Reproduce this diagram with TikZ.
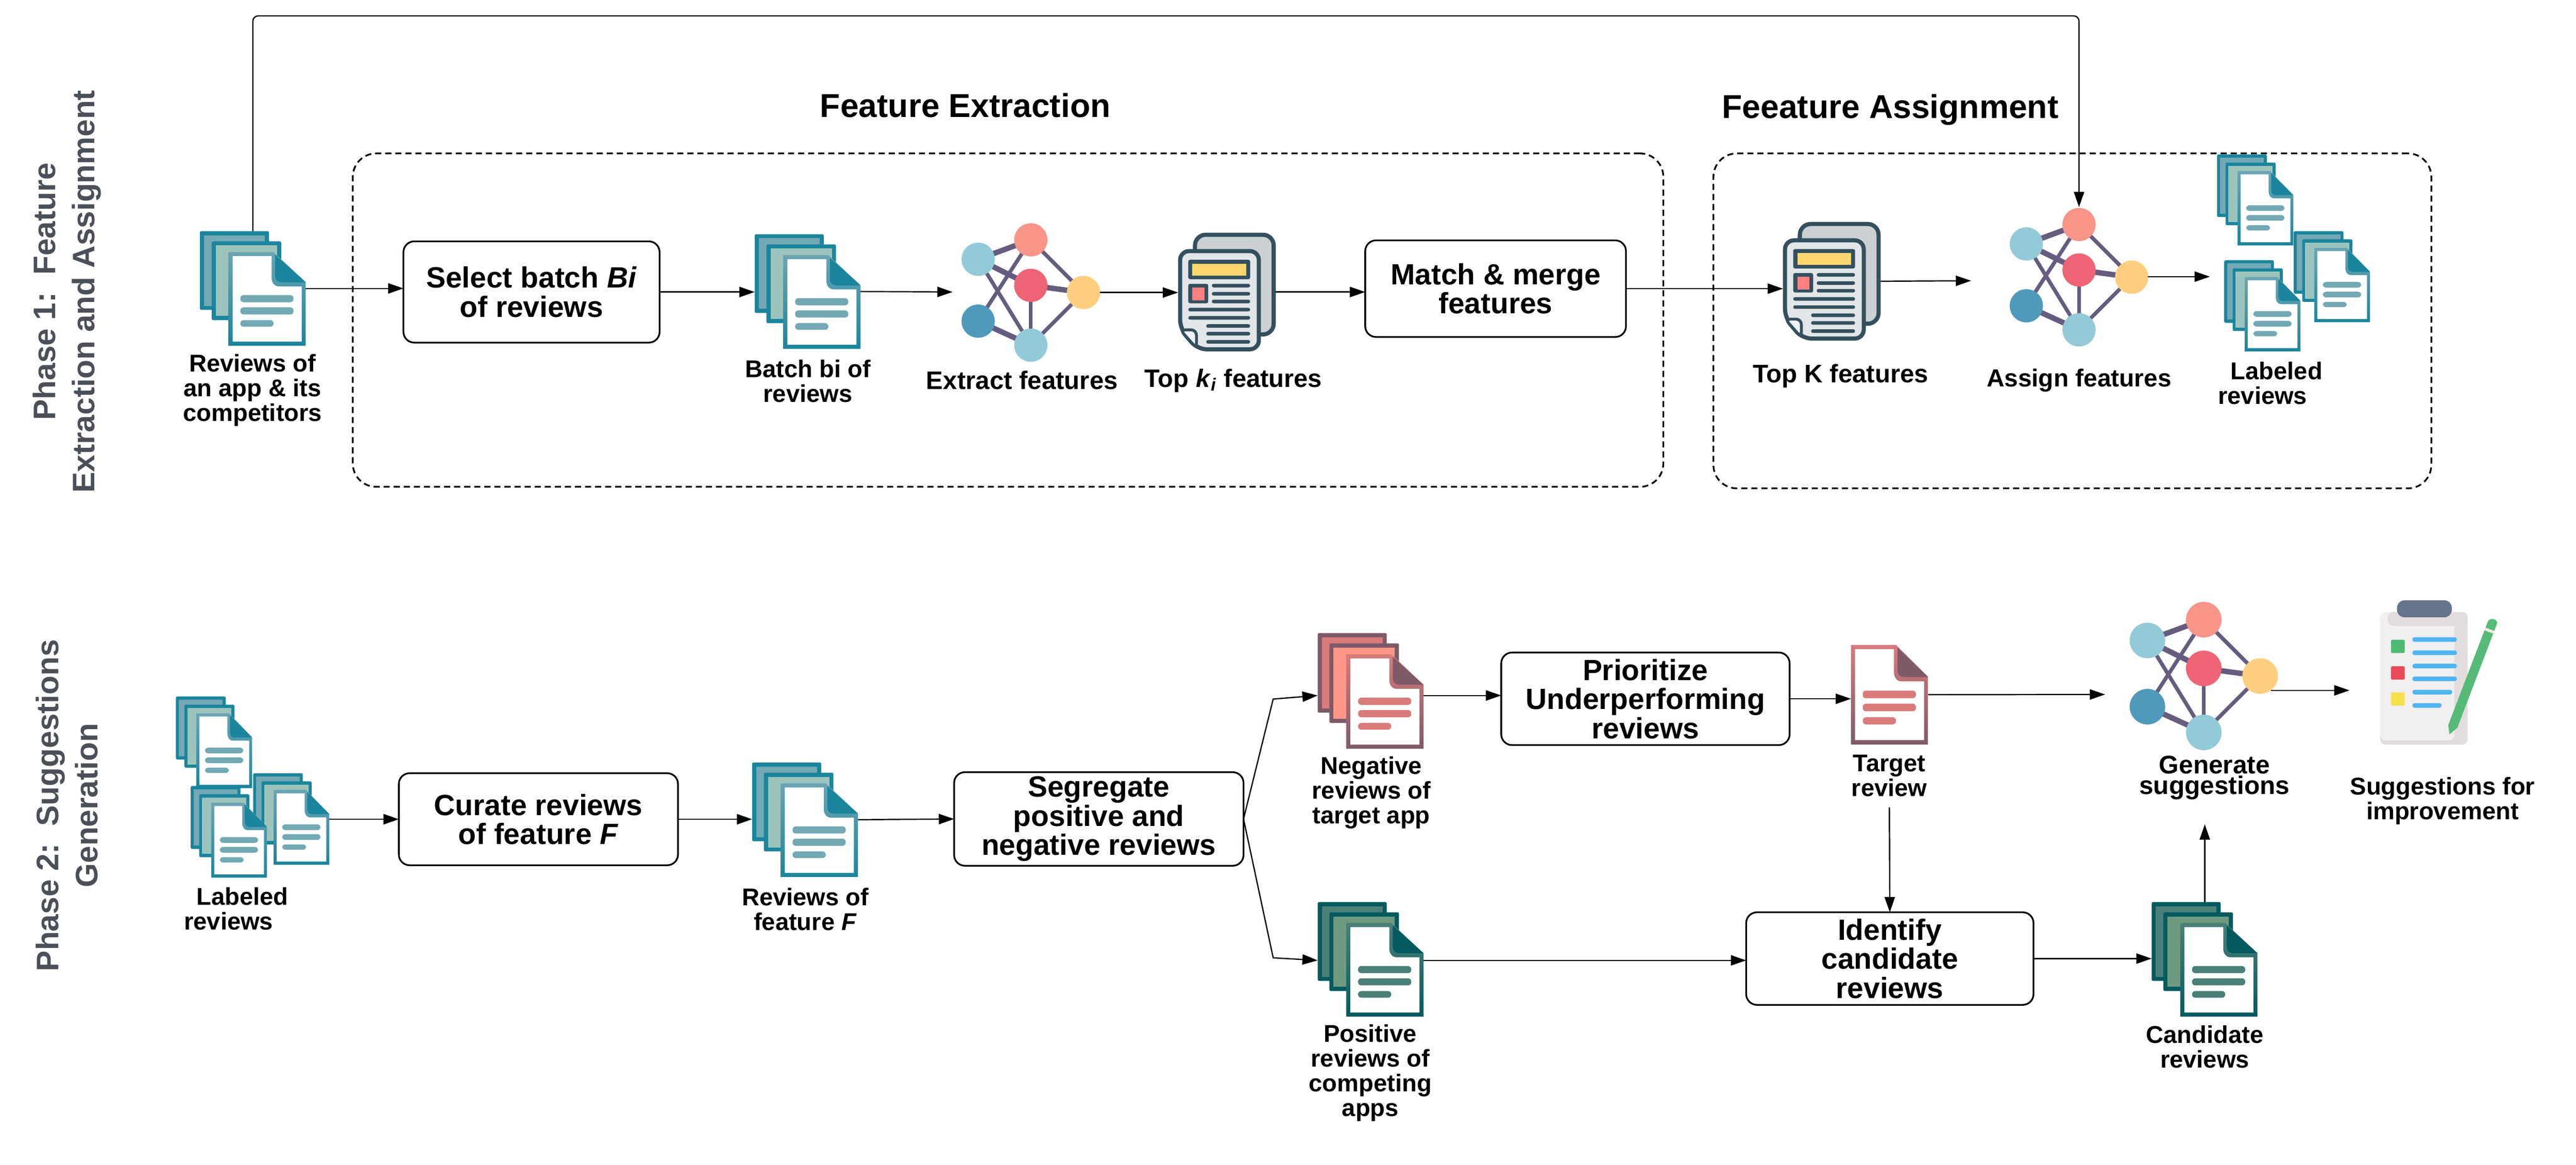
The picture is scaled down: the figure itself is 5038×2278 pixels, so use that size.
\documentclass[tikz,border=0pt]{standalone}
\usepackage{fontspec}
\setmainfont{Liberation Sans}
\usetikzlibrary{arrows.meta}

\definecolor{tealframe}{HTML}{1A859C}
\definecolor{tealback}{HTML}{73A8B5}
\definecolor{tealmid}{HTML}{9CC4BC}
\definecolor{tealtop}{HTML}{6BA5B5}
\definecolor{roseframe}{HTML}{7E5A68}
\definecolor{roseback}{HTML}{D97B7B}
\definecolor{rosemid}{HTML}{FF9688}
\definecolor{rosetop}{HTML}{D97B7B}
\definecolor{pineframe}{HTML}{045A5F}
\definecolor{pineback}{HTML}{4A8078}
\definecolor{pinemid}{HTML}{6E9A80}
\definecolor{pinetop}{HTML}{4A8078}
\definecolor{netlink}{HTML}{665C7F}
\definecolor{paperdark}{HTML}{33505F}
\definecolor{phasegray}{HTML}{4B5058}

\newcommand{\drawsheet}[1]{
    \shade[top color=#1top, bottom color=#1frame] (0,0) -- (88,0) -- (151,59) -- (151,183) -- (0,183) -- cycle;
    \fill[#1frame] (91,5) -- (151,59) -- (103,59) .. controls (96,59) and (91,54) .. (91,47) -- cycle;
    \fill[white] (8,8) -- (84,8) -- (84,50) .. controls (84,60) and (90,67) .. (98,67) -- (143,67) -- (143,175) -- (8,175) -- cycle;
    \fill[#1back, rounded corners=1.8pt] (23,84) rectangle (127,98);
    \fill[#1back, rounded corners=1.8pt] (23,108) rectangle (127,122);
    \fill[#1back, rounded corners=1.8pt] (23,133) rectangle (88,146);
}

\tikzset{
    flowarrow/.style={-{Triangle[length=8.5pt,width=5.7pt]}, line width=0.7pt, black},
    iconbox/.style 2 args={minimum width=#1*0.01cm, minimum height=#2*0.01cm, inner sep=0pt, outer sep=0pt, anchor=north west},
    procbox/.style 2 args={draw=black, line width=0.95pt, rounded corners=6pt, minimum width=#1*0.01cm, minimum height=#2*0.01cm, inner sep=0pt, outer sep=0pt, anchor=north west, align=center, font=\bfseries\fontsize{16.3}{16.2}\selectfont},
    dashbox/.style 2 args={draw=black, line width=0.95pt, rounded corners=13pt, dash pattern=on 3.4pt off 2.2pt, minimum width=#1*0.01cm, minimum height=#2*0.01cm, inner sep=0pt, outer sep=0pt, anchor=north west},
    iconlabel/.style={inner sep=0pt, outer sep=0pt, align=center, font=\bfseries\fontsize{13.5}{13.7}\selectfont},
    widelabel/.style={inner sep=0pt, outer sep=0pt, align=center, font=\bfseries\fontsize{14.1}{13.7}\selectfont},
    titlelabel/.style={inner sep=0pt, outer sep=0pt, font=\bfseries\fontsize{18.4}{20}\selectfont},
    phaselabel/.style={inner sep=0pt, outer sep=0pt, align=center, rotate=90, text=phasegray, font=\bfseries\fontsize{17.3}{21.8}\selectfont},
    pics/revsheet/.style={code={
        \drawsheet{#1}
    }},
    pics/revstack/.style={code={
        \fill[#1frame, rounded corners=0.8pt] (0,0) rectangle (135,154);
        \fill[#1back] (8,8) rectangle (127,146);
        \fill[#1frame, rounded corners=0.8pt] (23,20) rectangle (159,174);
        \fill[#1mid] (31,28) rectangle (151,166);
        \begin{scope}[shift={(56,41)}]
            \drawsheet{#1}
        \end{scope}
    }},
    pics/netgraph/.style={code={
        \coordinate (nlt) at (-103,-51);
        \coordinate (ntp) at (0,-89);
        \coordinate (nmd) at (0,0);
        \coordinate (nrt) at (103,14);
        \coordinate (nlb) at (-103,70);
        \coordinate (nbt) at (0,117);
        \foreach \a/\b in {nlt/ntp, nlt/nmd, nmd/nrt, nlb/nbt} {
            \draw[netlink, line width=3pt] (\a) -- (\b);
        }
        \foreach \a/\b in {nlt/nbt, ntp/nlb, ntp/nrt, nmd/nbt, nrt/nbt} {
            \draw[netlink, line width=2.1pt] (\a) -- (\b);
        }
        \fill[fill={rgb,255:red,147;green,202;blue,216}] (nlt) circle (32.5);
        \fill[fill={rgb,255:red,249;green,148;blue,136}] (ntp) circle (32.5);
        \fill[fill={rgb,255:red,239;green,100;blue,116}] (nmd) circle (32.5);
        \fill[fill={rgb,255:red,255;green,207;blue,127}] (nrt) circle (32.5);
        \fill[fill={rgb,255:red,79;green,154;blue,186}] (nlb) circle (32.5);
        \fill[fill={rgb,255:red,147;green,202;blue,216}] (nbt) circle (32.5);
    }},
    pics/newspaper/.style={code={
        \draw[paperdark, line width=2.3pt, rounded corners=6pt, fill={rgb,255:red,203;green,208;blue,211}] (33,4) rectangle (187,199);
        \draw[paperdark, line width=2.3pt, rounded corners=5pt, fill={rgb,255:red,226;green,230;blue,232}] (4,36) -- (158,36) -- (158,228) -- (38,228) -- (4,188) -- cycle;
        \draw[paperdark, line width=1.6pt, rounded corners=3pt, fill={rgb,255:red,240;green,242;blue,243}] (4,190) -- (36,190) -- (36,226) -- cycle;
        \fill[paperdark, rounded corners=1pt] (20,53) rectangle (141,91);
        \fill[fill={rgb,255:red,255;green,214;blue,110}] (28,61) rectangle (133,84);
        \fill[paperdark, rounded corners=1pt] (20,100) rectangle (59,138);
        \fill[fill={rgb,255:red,255;green,128;blue,128}] (28,107) rectangle (52,132);
        \foreach \y in {100,116,131} {
            \fill[paperdark, rounded corners=1pt] (66,\y) rectangle (141,\y+7);
        }
        \foreach \y in {147,163} {
            \fill[paperdark, rounded corners=1pt] (20,\y) rectangle (141,\y+7);
        }
        \foreach \y in {179,194,210} {
            \fill[paperdark, rounded corners=1pt] (55,\y) rectangle (141,\y+7);
        }
    }},
    pics/clipchart/.style={code={
        \fill[fill={rgb,255:red,226;green,220;blue,220}, rounded corners=3pt] (0,23) rectangle (171,282);
        \fill[fill={rgb,255:red,241;green,239;blue,239}, rounded corners=3pt] (0,23) rectangle (145,274);
        \fill[fill={rgb,255:red,226;green,220;blue,220}, rounded corners=3pt] (15,23) rectangle (171,50);
        \fill[fill={rgb,255:red,100;green,116;blue,138}, rounded corners=4pt] (33,0) rectangle (140,33);
        \fill[fill={rgb,255:red,77;green,187;blue,115}, rounded corners=0.8pt] (21,77) rectangle (48,103);
        \fill[fill={rgb,255:red,233;green,75;blue,90}, rounded corners=0.8pt] (21,129) rectangle (48,155);
        \fill[fill={rgb,255:red,245;green,224;blue,80}, rounded corners=0.8pt] (21,180) rectangle (48,206);
        \foreach \y/\e in {72/150, 98/150, 124/150, 149/150, 175/141, 201/120} {
            \fill[fill={rgb,255:red,79;green,181;blue,240}, rounded corners=1.2pt] (63,\y) rectangle (\e,\y+9);
        }
        \fill[fill={rgb,255:red,85;green,187;blue,119}] (135.6,262) -- (133,244) -- (210,43) .. controls (212,34) and (227,34) .. (229,44) -- (151,249) -- cycle;
        \draw[line width=1.6pt, color={rgb,255:red,240;green,235;blue,229}] (205,56) -- (224,63);
    }}
}

\begin{document}
\begin{tikzpicture}[x=0.01cm, y=-0.01cm]
    \useasboundingbox (0,0) rectangle (5038,2278);

    \node[phaselabel] (phaseone) at (131,570) {Phase 1:\ \ Feature\\Extraction and Assignment};
    \node[phaselabel] (phasetwo) at (131,1575) {Phase 2:\ \ Suggestions\\Generation};

    \node[titlelabel] (extracttitle) at (1888,206) {Feature Extraction};
    \node[titlelabel] (assigntitle) at (3697,215) {Feeature Assignment};
    \node[dashbox={2563}{652}] (extractframe) at (690,300) {};
    \node[dashbox={1404}{655}] (assignframe) at (3351,300) {};

    \coordinate (toprail) at (2800,31);
    \coordinate (net1in) at (1863,571);
    \coordinate (net2in) at (3855,549);
    \coordinate (net3in) at (4117,1358);
    \coordinate (net3top) at (4066,405);
    \coordinate (clipin) at (4595,1350);
    \coordinate (gentip) at (4312,1612);
    \coordinate (negbend) at (2490,1367);
    \coordinate (posbend) at (2490,1873);

    % phase 1
    \node[iconbox={207}{224}] (reviews) at (391,452) {};
    \node[procbox={501}{198}] (selectbatch) at (789,472) {Select batch \textit{Bi}\\of reviews};
    \node[iconbox={207}{224}] (batch) at (1476,458) {};
    \node[iconbox={271}{270}] (extractnet) at (1880,437) {};
    \node[iconbox={191}{232}] (topki) at (2304,455) {};
    \node[procbox={510}{189}] (matchmerge) at (2670,470) {Match \& merge\\features};
    \node[iconbox={191}{232}] (topk) at (3487,434) {};
    \node[iconbox={271}{270}] (assignnet) at (3930,406) {};
    \node[iconbox={149}{178}] (labeleda) at (4336,302) {};
    \node[iconbox={149}{178}] (labeledb) at (4486,452) {};
    \node[iconbox={149}{178}] (labeledc) at (4350,509) {};

    \pic at (reviews.north west) {revstack=teal};
    \pic at (batch.north west) {revstack=teal};
    \pic at (2016,558) {netgraph};
    \pic at (topki.north west) {newspaper};
    \pic at (topk.north west) {newspaper};
    \pic at (4066,528) {netgraph};
    \pic[xscale=0.72, yscale=0.795] at (labeleda.north west) {revstack=teal};
    \pic[xscale=0.72, yscale=0.795] at (labeledb.north west) {revstack=teal};
    \pic[xscale=0.72, yscale=0.795] at (labeledc.north west) {revstack=teal};

    \node[iconlabel] (reviewstext) at (494,763) {Reviews of\\an app \& its\\competitors};
    \node[iconlabel] (batchtext) at (1580,745) {Batch bi of\\reviews};
    \node[widelabel] (extracttext) at (1999,743) {Extract features};
    \node[iconlabel, font=\bfseries\fontsize{14}{14}\selectfont] (topkitext) at (2412,744) {Top \textit{k}\textsubscript{\textit{i}} features};
    \node[widelabel] (topktext) at (3600,735) {Top K features};
    \node[iconlabel, font=\bfseries\fontsize{13.7}{14}\selectfont] (assigntext) at (4066,744) {Assign features};
    \node[iconlabel, align=left] (labeledtext) at (4440,749) {\hspace*{7pt}Labeled\\reviews};

    \draw[flowarrow] (reviews.east) -- (reviews.east -| selectbatch.west);
    \draw[flowarrow] (selectbatch.east) -- (selectbatch.east -| batch.west);
    \draw[flowarrow] (batch.east) -- (net1in);
    \draw[flowarrow] (extractnet.east) -- (extractnet.east -| topki.west);
    \draw[flowarrow] (topki.east) -- (topki.east -| matchmerge.west);
    \draw[flowarrow] (matchmerge.east) -- (matchmerge.east -| topk.west);
    \draw[flowarrow] (topk.east) -- (net2in);
    \draw[flowarrow, shorten >=4pt] (assignnet.east) -- (assignnet.east -| labeleda.west);
    \draw[flowarrow, rounded corners=3pt] (reviews.north) -- (reviews.north |- toprail) -- (net3top |- toprail) -- (net3top);

    % phase 2
    \node[iconbox={149}{179}] (labelpa) at (344,1362) {};
    \node[iconbox={149}{180}] (labelpb) at (495,1512) {};
    \node[iconbox={149}{179}] (labelpc) at (373,1537) {};
    \node[procbox={546}{180}] (curate) at (780,1512) {Curate reviews\\of feature \textit{F}};
    \node[iconbox={207}{224}] (featrev) at (1471,1491) {};
    \node[procbox={566}{183}] (segregate) at (1866,1510) {Segregate\\positive and\\negative reviews};
    \node[iconbox={207}{244}] (negrev) at (2577,1238) {};
    \node[iconbox={207}{228}] (posrev) at (2577,1764) {};
    \node[procbox={564}{181}] (prioritize) at (2936,1276) {Prioritize\\Underperforming\\reviews};
    \node[iconbox={151}{195}] (target) at (3620,1261) {};
    \node[procbox={562}{181}] (identify) at (3415,1784) {Identify\\candidate\\reviews};
    \node[iconbox={208}{224}] (candidate) at (4208,1764) {};
    \node[iconbox={277}{292}] (gennet) at (4164,1177) {};
    \node[iconbox={229}{282}] (clipchart) at (4655,1174) {};

    \pic[xscale=0.72, yscale=0.8] at (labelpa.north west) {revstack=teal};
    \pic[xscale=0.72, yscale=0.8] at (labelpb.north west) {revstack=teal};
    \pic[xscale=0.72, yscale=0.8] at (labelpc.north west) {revstack=teal};
    \pic at (featrev.north west) {revstack=teal};
    \pic[yscale=1.01] at (negrev.north west) {revstack=rose};
    \pic at (posrev.north west) {revstack=pine};
    \pic[yscale=1.065] at (target.north west) {revsheet=rose};
    \pic at (candidate.north west) {revstack=pine};
    \pic[scale=1.07] at (4310,1307) {netgraph};
    \pic at (clipchart.north west) {clipchart};

    \node[iconlabel, align=left] (labelptext) at (462,1777) {\hspace*{7pt}Labeled\\reviews};
    \node[iconlabel] (featrevtext) at (1575,1778) {Reviews of\\feature \textit{F}};
    \node[iconlabel] (negtext) at (2682,1550) {Negative\\reviews of\\target app};
    \node[iconlabel] (postext) at (2680,2098) {Positive\\reviews of\\competing\\apps};
    \node[iconlabel] (targettext) at (3695,1517) {Target\\review};
    \node[iconlabel] (cantext) at (4312,2047) {Candidate\\reviews};
    \node[iconlabel, font=\bfseries\fontsize{14.2}{11.4}\selectfont] (gentext) at (4331,1521) {Generate\\suggestions};
    \node[iconlabel] (suggesttext) at (4777,1566) {Suggestions for\\improvement};

    \draw[flowarrow] (labelpb.east) -- (labelpb.east -| curate.west);
    \draw[flowarrow] (curate.east) -- (curate.east -| featrev.west);
    \draw[flowarrow] (featrev.east) -- (segregate.west);
    \draw[flowarrow] (segregate.east) -- (negbend) -- (negrev.west);
    \draw[flowarrow] (segregate.east) -- (posbend) -- (posrev.west);
    \draw[flowarrow] (negrev.east) -- (negrev.east -| prioritize.west);
    \draw[flowarrow] (prioritize.east) -- (prioritize.east -| target.west);
    \draw[flowarrow] (target.east) -- (net3in);
    \draw[flowarrow, shorten <=6pt] (targettext.south) -- (identify.north);
    \draw[flowarrow] (posrev.east) -- (posrev.east -| identify.west);
    \draw[flowarrow] (identify.east) -- (identify.east -| candidate.west);
    \draw[flowarrow] (candidate.north) -- (gentip);
    \draw[flowarrow] (gennet.east |- clipin) -- (clipin);
\end{tikzpicture}
\end{document}
